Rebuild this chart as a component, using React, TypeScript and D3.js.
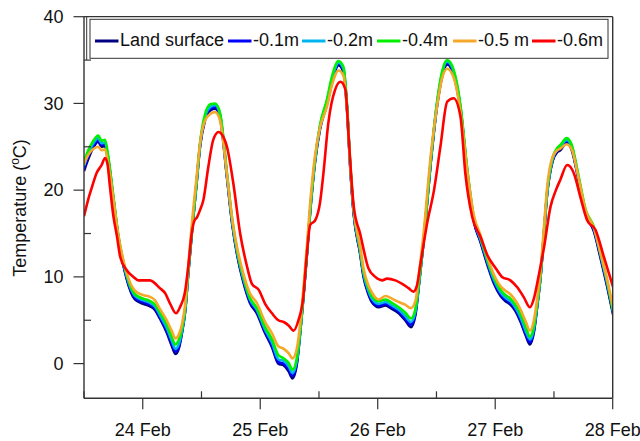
import React from "react";
import * as d3 from "d3";

// hours since 23 Feb 12:00
const mainHours = [0,0.8,1.8,2.9,3.6,4.3,4.9,6.0,7.0,7.8,8.7,10.4,12.1,13.5,14.5,15.5,16.9,17.9,18.7,19.4,20.0,20.7,21.3,22.1,23.0,23.7,24.7,25.8,26.8,27.8,29.2,30.3,31.3,32.5,33.9,35.3,37.0,38.4,39.7,40.8,41.8,42.6,43.5,44.2,44.8,45.5,46.2,47.2,48.2,49.6,50.7,52.0,53.0,53.7,54.4,55.1,56.4,57.1,58.1,58.8,60.2,61.6,62.9,64.3,65.6,66.8,67.7,68.4,69.4,70.8,72.1,73.2,74.2,75.5,76.9,78.3,79.6,81.0,82.4,83.7,85.1,86.1,87.1,88.1,89.2,90.2,91.1,91.9,92.6,93.3,93.9,94.6,95.7,96.7,97.3,98.6,99.7,100.8,102.5,104.2,105.5,106.9,108.1];

const landSurface = [22.2,23.5,24.8,25.6,25.0,25.1,23.5,18.9,14.5,12.0,9.8,7.4,6.9,6.6,6.2,5.2,3.6,2.1,1.1,1.8,3.5,6.2,10.4,15.5,20.8,25.0,28.0,29.2,29.4,28.3,21.5,16.0,12.5,9.5,7.0,5.8,3.5,1.9,0.0,-0.2,-0.9,-1.7,0.0,3.8,7.5,12.3,17.5,23.3,27.0,29.8,32.5,34.4,33.6,29.6,22.5,17.2,12.7,10.0,8.0,7.1,6.5,6.7,6.3,5.8,5.0,4.2,5.6,9.0,14.2,23.0,29.6,33.2,34.5,33.3,29.3,21.9,16.5,14.0,11.4,9.3,7.8,7.2,6.8,6.1,4.8,3.3,2.2,3.6,6.7,10.2,14.5,19.5,23.3,24.4,24.6,25.5,24.5,21.8,17.2,15.2,12.2,8.8,5.6];

const depth01 = [22.5,23.8,25.0,25.8,25.2,25.3,23.7,19.0,14.6,12.1,9.9,7.6,7.1,6.8,6.4,5.4,3.8,2.4,1.4,2.0,3.6,6.3,10.5,15.6,20.9,25.1,28.2,29.4,29.6,28.5,21.6,16.1,12.6,9.7,7.2,6.0,3.7,2.1,0.2,0.0,-0.6,-1.4,0.2,3.9,7.6,12.4,17.6,23.4,27.2,30.0,32.7,34.6,33.8,29.7,22.6,17.3,12.8,10.2,8.2,7.3,6.7,6.9,6.5,6.0,5.2,4.5,5.8,9.1,14.3,23.1,29.8,33.4,34.7,33.5,29.4,22.0,16.6,14.1,11.6,9.5,8.0,7.4,7.0,6.3,5.0,3.5,2.5,3.8,6.8,10.3,14.6,19.6,23.4,24.6,24.8,25.7,24.7,21.9,17.3,15.3,12.4,9.0,5.8];

const depth02 = [22.8,24.1,25.3,26.0,25.4,25.5,23.9,19.1,14.7,12.2,10.1,7.8,7.3,7.0,6.6,5.6,4.1,2.7,1.7,2.3,3.7,6.3,10.5,15.6,20.9,25.2,28.4,29.6,29.8,28.7,21.8,16.3,12.8,9.9,7.4,6.2,3.9,2.4,0.5,0.3,-0.3,-1.1,0.4,3.9,7.6,12.4,17.6,23.5,27.3,30.2,32.9,34.7,34.0,29.9,22.7,17.5,13.0,10.4,8.4,7.5,6.9,7.1,6.7,6.2,5.5,4.8,6.0,9.1,14.3,23.2,29.9,33.6,34.8,33.7,29.6,22.2,16.8,14.3,11.8,9.7,8.2,7.6,7.2,6.5,5.3,3.8,2.8,4.0,6.9,10.3,14.6,19.7,23.5,24.7,25.0,25.8,24.9,22.1,17.5,15.5,12.6,9.2,6.0];

const depth04 = [23.3,24.5,25.6,26.3,25.7,25.8,24.1,19.3,14.9,12.4,10.3,8.0,7.5,7.2,6.8,5.9,4.5,3.1,2.2,2.8,4.0,6.5,10.6,15.7,21.0,25.4,28.7,29.9,30.0,28.9,22.0,16.5,13.0,10.1,7.6,6.4,4.2,2.8,1.0,0.6,0.1,-0.7,0.7,4.0,7.7,12.5,17.7,23.6,27.5,30.4,33.2,34.9,34.2,30.1,22.9,17.7,13.2,10.6,8.7,7.8,7.2,7.4,7.0,6.5,5.9,5.2,6.3,9.3,14.4,23.3,30.1,33.8,35.0,33.9,29.8,22.4,17.0,14.5,12.0,10.0,8.5,7.9,7.5,6.8,5.7,4.3,3.1,4.3,7.0,10.4,14.7,19.8,23.7,24.9,25.2,26.0,25.1,22.3,17.7,15.7,12.8,9.4,6.0];

const depth05 = [23.0,24.0,24.7,25.0,24.6,24.7,23.2,19.0,14.8,12.5,10.5,8.4,7.9,7.7,7.3,6.3,5.0,3.8,2.9,3.4,4.5,7.0,11.2,16.5,21.5,25.4,28.0,28.8,29.0,28.0,21.8,16.6,13.3,10.5,8.1,7.0,4.8,3.5,2.0,1.7,1.2,0.6,1.8,4.8,8.5,13.3,18.5,24.0,27.2,29.6,32.2,33.8,33.2,29.4,22.8,17.8,13.5,11.0,9.0,8.2,7.4,7.8,7.5,7.1,6.8,6.4,7.2,10.2,15.2,23.8,29.6,33.0,34.0,33.0,29.0,22.2,17.2,14.8,12.3,10.3,8.9,8.4,8.0,7.3,6.2,4.9,3.8,5.0,7.6,11.0,15.3,20.3,23.8,24.6,24.8,25.3,24.6,22.0,17.6,15.6,12.8,9.6,6.4];

const redHours = [0,0.8,1.6,2.6,3.6,4.3,4.8,5.3,6.0,6.7,7.4,8.7,10.1,11.1,13.5,14.2,15.5,16.6,17.6,18.8,19.6,20.7,21.3,22.0,22.5,23.1,23.7,24.4,25.4,26.4,27.5,28.2,29.2,30.5,31.9,33.3,34.3,35.7,37.0,38.4,39.7,40.8,41.8,42.8,43.8,44.8,45.5,46.2,47.2,48.2,48.9,49.9,51.3,52.4,53.4,54.1,55.1,56.4,58.1,59.5,60.9,61.9,63.6,65.0,66.3,67.3,68.0,68.7,70.1,71.5,72.8,74.2,75.5,76.9,77.9,79.3,81.0,82.4,84.1,85.4,87.1,88.5,89.8,91.1,91.9,92.9,94.0,95.3,96.4,97.3,98.7,100.1,101.4,102.8,104.5,106.2,108.1];

const depth06 = [17.0,18.8,20.3,22.0,22.9,23.7,23.0,20.4,17.0,14.8,12.3,10.8,10.0,9.6,9.6,9.4,8.7,8.1,6.9,5.8,6.5,8.5,11.2,15.0,16.4,16.9,17.7,18.9,22.7,25.8,26.7,26.4,25.0,20.8,15.0,11.2,9.2,8.5,6.9,5.8,5.0,4.8,4.4,3.8,5.0,7.7,12.5,16.0,16.5,18.5,21.9,27.7,31.6,32.5,31.6,25.8,18.1,15.0,11.0,10.0,9.6,9.8,9.6,9.2,8.7,8.3,9.0,11.4,16.2,20.0,25.0,30.2,30.6,28.5,21.9,16.9,14.6,12.5,11.0,10.0,9.6,8.8,7.7,6.5,7.5,10.2,13.5,18.1,20.0,21.2,22.9,21.9,19.2,16.5,15.4,12.3,8.8];

const seriesNames = ["Land surface", "-0.1m", "-0.2m", "-0.4m", "-0.5 m", "-0.6m"];
const seriesColors = ["#000080", "#0000ff", "#00b4f0", "#00f000", "#f5a829", "#ff0000"];
const yTicks = [0, 10, 20, 30, 40];
const yMinorTicks = [5, 15, 25, 35];
const yLabel = "Temperature (";

const START = Date.UTC(2020, 1, 23, 12);
const END = Date.UTC(2020, 1, 28, 0);

const W = 640, H = 441;
const L = 84, R = 612.7, T = 16.7, B = 398.3;

export default function App() {
  const x = d3.scaleUtc().domain([new Date(START), new Date(END)]).range([L, R]);
  const y = d3.scaleLinear().domain([-4, 40]).range([B, T]);
  const toDate = (h: number) => new Date(START + h * 3600 * 1000);

  const data = [
    { h: mainHours, v: landSurface },
    { h: mainHours, v: depth01 },
    { h: mainHours, v: depth02 },
    { h: mainHours, v: depth04 },
    { h: mainHours, v: depth05 },
    { h: redHours, v: depth06 },
  ];

  const line = d3
    .line<[Date, number]>()
    .x((d) => x(d[0]))
    .y((d) => y(d[1]))
    .curve(d3.curveMonotoneX);

  const dayTicks = x.ticks(d3.utcDay.every(1)!).filter((d) => +d > START);
  const noonTicks = d3.utcHour.every(12)!.range(new Date(START), new Date(END)).filter((d) => d.getUTCHours() === 12);
  const fmt = d3.utcFormat("%-d %b");

  const font = "Arial, 'Liberation Sans', sans-serif";
  const axisColor = "#333";

  const legendItems = [
    { lx: 95, tx: 120 },
    { lx: 228, tx: 253 },
    { lx: 302, tx: 327 },
    { lx: 377, tx: 402 },
    { lx: 453, tx: 478 },
    { lx: 532, tx: 557 },
  ];

  return (
    <svg
      width={W}
      height={H}
      style={{ position: "absolute", left: 0, top: 0, background: "#fff" }}
      fontFamily={font}
    >
      <rect x={0} y={0} width={W} height={H} fill="#fff" />
      <defs>
        <clipPath id="plot">
          <rect x={L} y={T} width={R - L} height={B - T} />
        </clipPath>
      </defs>

      {/* series */}
      <g clipPath="url(#plot)">
        {data.map((s, i) => (
          <path
            key={i}
            d={line(s.h.map((h, j) => [toDate(h), s.v[j]] as [Date, number])) || ""}
            fill="none"
            stroke={seriesColors[i]}
            strokeWidth={2.6}
            strokeLinejoin="round"
          />
        ))}
      </g>

      {/* frame */}
      <line x1={L} x2={R} y1={T} y2={T} stroke={axisColor} strokeWidth={1.2} />
      <line x1={R} x2={R} y1={T} y2={B} stroke={axisColor} strokeWidth={1.4} />
      <line x1={86.7} x2={86.7} y1={T} y2={60} stroke={axisColor} strokeWidth={1} />

      {/* y axis */}
      <line x1={L} x2={L} y1={T} y2={B} stroke={axisColor} strokeWidth={1.4} />
      {yTicks.map((t) => (
        <g key={t}>
          <line x1={L - 10.5} x2={L} y1={y(t)} y2={y(t)} stroke={axisColor} strokeWidth={1.2} />
          <text x={63.5} y={y(t)} dy="0.35em" textAnchor="end" fontSize={18} fill="#111">
            {t}
          </text>
        </g>
      ))}
      {yMinorTicks.map((t) => (
        <line key={t} x1={L} x2={L + 7} y1={y(t)} y2={y(t)} stroke={axisColor} strokeWidth={1.2} />
      ))}

      {/* x axis */}
      <line x1={L} x2={R} y1={B} y2={B} stroke={axisColor} strokeWidth={1.4} />
      {dayTicks.map((d) => (
        <g key={+d}>
          <line x1={x(d)} x2={x(d)} y1={B} y2={B + 11} stroke={axisColor} strokeWidth={1.2} />
          <text x={x(d)} y={436} textAnchor="middle" fontSize={18} fill="#111">
            {fmt(d)}
          </text>
        </g>
      ))}
      {noonTicks.map((d) => (
        <line key={+d} x1={x(d)} x2={x(d)} y1={B - 7} y2={B} stroke={axisColor} strokeWidth={1.2} />
      ))}

      {/* y label */}
      <text
        transform={`translate(26, 208) rotate(-90)`}
        textAnchor="middle"
        fontSize={18}
        fill="#111"
      >
        {yLabel}
        <tspan fontSize={12} dy={-7}>o</tspan>
        <tspan dy={7}>C)</tspan>
      </text>

      {/* legend */}
      <rect x={90} y={19.3} width={518} height={39} fill="#fff" stroke={axisColor} strokeWidth={1} />
      {seriesNames.map((n, i) => (
        <g key={n}>
          <line
            x1={legendItems[i].lx}
            x2={legendItems[i].lx + 23.5}
            y1={41}
            y2={41}
            stroke={seriesColors[i]}
            strokeWidth={3}
          />
          <text x={legendItems[i].tx} y={46} fontSize={18} fill="#111">
            {n}
          </text>
        </g>
      ))}
    </svg>
  );
}
